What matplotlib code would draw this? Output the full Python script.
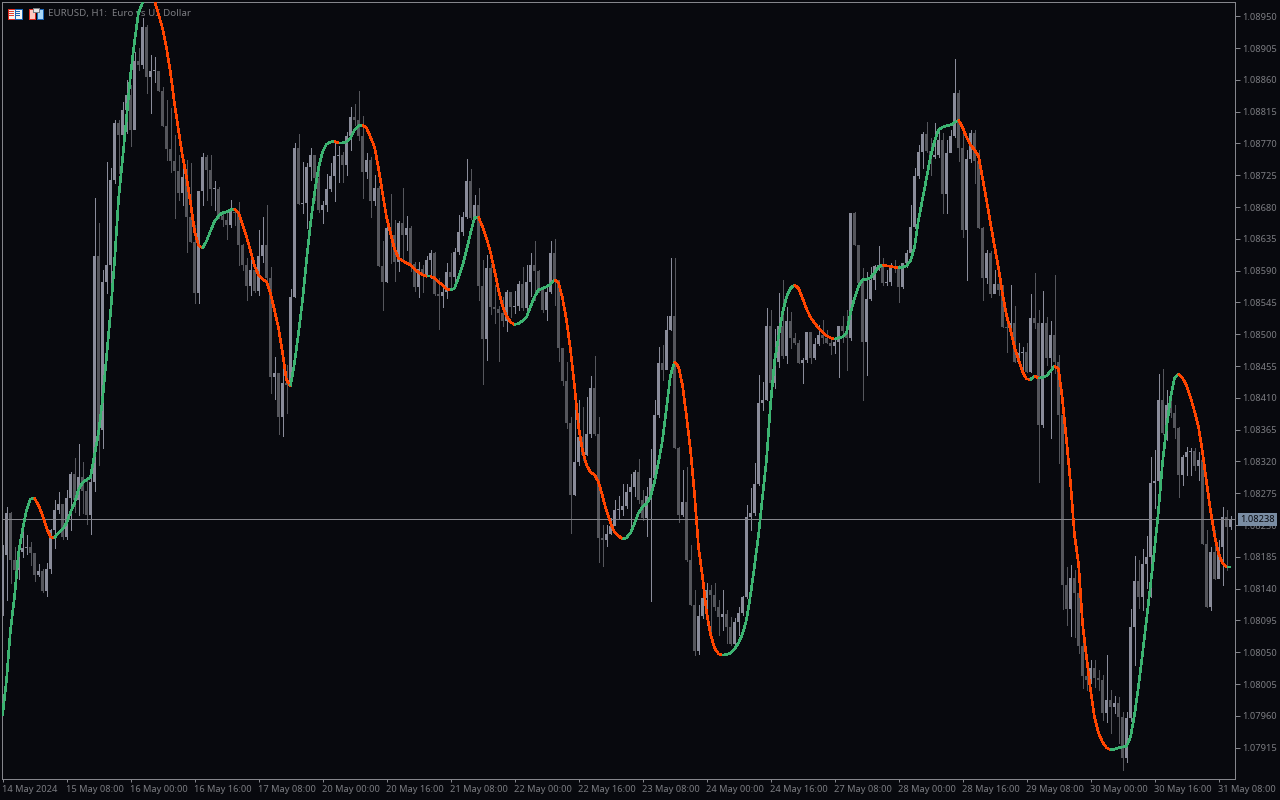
#!/usr/bin/env python3
"""EURUSD H1 chart with a smoothed trend line, dark terminal style."""
import matplotlib
matplotlib.use("Agg")
import matplotlib.pyplot as plt
import numpy as np
from matplotlib.collections import LineCollection
from matplotlib.patches import Rectangle
from matplotlib.transforms import Affine2D

# prices are kept as points above 1.00000 (8238 = 1.08238)
closes = [
    8188, 8247, 8181, 8166, 8192, 8198, 8199, 8190, 8159, 8165,
    8137, 8168, 8223, 8251, 8260, 8213, 8268, 8302, 8265, 8298,
    8278, 8244, 8291, 8611, 8365, 8574, 8598, 8718, 8799, 8782,
    8817, 8839, 8789, 8887, 8881, 8935, 8864, 8873, 8873, 8844,
    8795, 8762, 8745, 8731, 8700, 8723, 8666, 8631, 8558, 8703,
    8751, 8732, 8706, 8706, 8667, 8662, 8655, 8673, 8672, 8626,
    8598, 8568, 8591, 8561, 8611, 8626, 8580, 8440, 8445, 8383,
    8431, 8428, 8553, 8764, 8684, 8686, 8737, 8754, 8721, 8676,
    8683, 8706, 8724, 8752, 8754, 8740, 8781, 8807, 8803, 8781,
    8730, 8747, 8689, 8707, 8597, 8574, 8650, 8640, 8602, 8657,
    8640, 8650, 8599, 8567, 8592, 8584, 8605, 8615, 8557, 8554,
    8560, 8588, 8581, 8616, 8645, 8666, 8717, 8665, 8683, 8568,
    8493, 8594, 8539, 8536, 8530, 8519, 8560, 8539, 8540, 8571,
    8537, 8574, 8598, 8590, 8563, 8534, 8560, 8615, 8577, 8481,
    8434, 8374, 8273, 8319, 8355, 8329, 8359, 8424, 8359, 8212,
    8209, 8217, 8229, 8251, 8251, 8257, 8277, 8284, 8305, 8265,
    8240, 8271, 8297, 8386, 8459, 8449, 8506, 8526, 8339, 8244,
    8263, 8181, 8117, 8052, 8101, 8127, 8138, 8131, 8114, 8100,
    8104, 8086, 8062, 8093, 8106, 8128, 8241, 8247, 8288, 8403,
    8407, 8512, 8431, 8461, 8512, 8469, 8519, 8495, 8488, 8459,
    8464, 8503, 8466, 8486, 8499, 8495, 8488, 8483, 8489, 8512,
    8505, 8495, 8672, 8626, 8573, 8489, 8550, 8577, 8597, 8598,
    8573, 8574, 8595, 8594, 8567, 8601, 8615, 8652, 8724, 8758,
    8783, 8759, 8751, 8754, 8775, 8698, 8757, 8781, 8841, 8764,
    8648, 8748, 8785, 8745, 8650, 8580, 8615, 8557, 8571, 8563,
    8510, 8509, 8516, 8461, 8473, 8475, 8447, 8523, 8516, 8372,
    8516, 8466, 8499, 8461, 8386, 8145, 8111, 8155, 8134, 8059,
    8016, 8011, 8028, 8014, 8011, 7964, 7982, 7973, 7978, 7958,
    7900, 7957, 8086, 8151, 8128, 8175, 8185, 8290, 8292, 8407,
    8360, 8400, 8389, 8367, 8301, 8326, 8333, 8335, 8314, 8322,
    8203, 8114, 8192, 8154, 8199, 8241, 8227, 8237,
]
first_open = 8124
highs = [
    8202, 8256, 8248, 8199, 8206, 8223, 8216, 8206, 8185, 8175,
    8168, 8176, 8224, 8265, 8277, 8260, 8280, 8305, 8325, 8345,
    8319, 8298, 8298, 8693, 8657, 8591, 8744, 8735, 8803, 8803,
    8829, 8860, 8853, 8899, 8905, 8948, 8938, 8895, 8892, 8873,
    8850, 8831, 8820, 8782, 8754, 8747, 8747, 8742, 8655, 8703,
    8757, 8754, 8754, 8717, 8708, 8672, 8672, 8690, 8679, 8687,
    8628, 8608, 8608, 8594, 8648, 8666, 8683, 8595, 8468, 8445,
    8457, 8457, 8564, 8771, 8783, 8744, 8742, 8764, 8754, 8732,
    8689, 8727, 8742, 8771, 8766, 8758, 8786, 8822, 8826, 8844,
    8809, 8757, 8751, 8725, 8710, 8632, 8659, 8698, 8662, 8660,
    8707, 8667, 8653, 8602, 8602, 8598, 8611, 8619, 8616, 8580,
    8565, 8601, 8615, 8622, 8669, 8673, 8748, 8734, 8697, 8707,
    8605, 8612, 8599, 8570, 8540, 8553, 8563, 8557, 8561, 8575,
    8595, 8598, 8615, 8632, 8591, 8568, 8570, 8632, 8635, 8575,
    8478, 8461, 8383, 8407, 8407, 8397, 8411, 8441, 8469, 8383,
    8230, 8230, 8240, 8265, 8271, 8288, 8288, 8302, 8308, 8323,
    8280, 8284, 8338, 8407, 8482, 8485, 8526, 8608, 8608, 8340,
    8308, 8312, 8202, 8138, 8117, 8145, 8148, 8145, 8148, 8124,
    8138, 8110, 8100, 8099, 8114, 8130, 8258, 8282, 8318, 8442,
    8432, 8537, 8534, 8507, 8558, 8577, 8539, 8531, 8502, 8492,
    8466, 8503, 8502, 8495, 8513, 8520, 8506, 8496, 8492, 8512,
    8526, 8534, 8672, 8673, 8625, 8594, 8588, 8595, 8598, 8625,
    8608, 8591, 8601, 8605, 8598, 8601, 8619, 8683, 8735, 8768,
    8786, 8800, 8778, 8799, 8789, 8785, 8775, 8789, 8889, 8846,
    8789, 8761, 8789, 8789, 8761, 8652, 8619, 8618, 8591, 8573,
    8570, 8520, 8570, 8540, 8488, 8482, 8488, 8557, 8587, 8534,
    8561, 8524, 8519, 8584, 8471, 8386, 8171, 8174, 8166, 8142,
    8082, 8043, 8039, 8039, 8025, 8018, 8046, 7997, 7988, 7987,
    7965, 7965, 8111, 8186, 8181, 8196, 8215, 8326, 8336, 8444,
    8451, 8421, 8407, 8400, 8369, 8329, 8340, 8339, 8339, 8333,
    8332, 8223, 8199, 8223, 8209, 8255, 8251, 8243,
]
lows = [
    8103, 8124, 8148, 8142, 8154, 8185, 8189, 8174, 8151, 8158,
    8135, 8130, 8162, 8198, 8247, 8210, 8210, 8223, 8248, 8244,
    8247, 8232, 8217, 8278, 8315, 8339, 8558, 8558, 8714, 8728,
    8775, 8785, 8766, 8820, 8874, 8877, 8841, 8813, 8857, 8844,
    8795, 8747, 8730, 8665, 8690, 8683, 8616, 8631, 8544, 8544,
    8683, 8690, 8683, 8676, 8665, 8653, 8635, 8652, 8655, 8598,
    8591, 8548, 8556, 8560, 8556, 8602, 8577, 8417, 8408, 8359,
    8356, 8389, 8427, 8553, 8684, 8672, 8650, 8718, 8690, 8673,
    8657, 8674, 8703, 8689, 8715, 8715, 8725, 8761, 8796, 8775,
    8693, 8721, 8666, 8683, 8597, 8534, 8574, 8601, 8575, 8590,
    8602, 8619, 8590, 8561, 8553, 8560, 8582, 8580, 8556, 8507,
    8539, 8551, 8563, 8570, 8614, 8640, 8665, 8663, 8663, 8548,
    8430, 8464, 8529, 8516, 8462, 8512, 8505, 8524, 8530, 8534,
    8534, 8534, 8554, 8548, 8560, 8531, 8520, 8558, 8541, 8462,
    8428, 8367, 8219, 8273, 8315, 8322, 8329, 8355, 8357, 8178,
    8172, 8200, 8217, 8230, 8240, 8244, 8254, 8222, 8271, 8261,
    8237, 8215, 8123, 8297, 8383, 8435, 8457, 8506, 8339, 8234,
    8243, 8179, 8117, 8046, 8048, 8098, 8089, 8074, 8110, 8074,
    8081, 8063, 8060, 8057, 8074, 8103, 8127, 8223, 8244, 8287,
    8393, 8407, 8428, 8424, 8454, 8466, 8459, 8481, 8486, 8459,
    8431, 8461, 8459, 8465, 8485, 8488, 8488, 8472, 8473, 8440,
    8489, 8449, 8492, 8626, 8573, 8407, 8442, 8548, 8564, 8591,
    8570, 8570, 8570, 8588, 8546, 8565, 8595, 8608, 8650, 8721,
    8735, 8758, 8725, 8749, 8751, 8672, 8672, 8765, 8779, 8745,
    8638, 8577, 8744, 8714, 8650, 8548, 8573, 8553, 8565, 8556,
    8510, 8475, 8495, 8461, 8457, 8449, 8447, 8447, 8509, 8291,
    8369, 8456, 8353, 8445, 8318, 8111, 8089, 8073, 8072, 8049,
    8000, 7997, 8007, 8001, 7997, 7954, 7951, 7936, 7964, 7922,
    7883, 7895, 7953, 8032, 8113, 8110, 8141, 8128, 8254, 8265,
    8359, 8350, 8383, 8353, 8270, 8287, 8301, 8301, 8308, 8294,
    8203, 8114, 8110, 8154, 8159, 8145, 8166, 8224,
]
trend = [
    7961, 8011, 8082, 8128, 8190, 8223, 8251, 8267, 8268, 8258,
    8244, 8226, 8213, 8212, 8219, 8224, 8233, 8248, 8261, 8280,
    8290, 8294, 8298, 8329, 8360, 8407, 8468, 8530, 8602, 8690,
    8747, 8806, 8867, 8914, 8955, 8969, 8984, 8990, 8972, 8953,
    8933, 8905, 8870, 8826, 8789, 8752, 8723, 8686, 8646, 8626,
    8622, 8632, 8646, 8660, 8667, 8672, 8673, 8676, 8677, 8672,
    8656, 8638, 8618, 8597, 8584, 8578, 8574, 8558, 8534, 8509,
    8474, 8435, 8427, 8459, 8502, 8548, 8605, 8656, 8700, 8735,
    8758, 8769, 8772, 8773, 8771, 8771, 8772, 8778, 8789, 8795,
    8796, 8792, 8779, 8765, 8735, 8700, 8666, 8643, 8621, 8608,
    8604, 8601, 8598, 8592, 8588, 8584, 8582, 8582, 8580, 8574,
    8570, 8564, 8563, 8565, 8580, 8597, 8619, 8643, 8665, 8666,
    8652, 8636, 8616, 8590, 8563, 8540, 8526, 8517, 8514, 8515,
    8519, 8524, 8539, 8553, 8563, 8565, 8567, 8571, 8577, 8573,
    8551, 8520, 8478, 8427, 8369, 8336, 8315, 8305, 8301, 8291,
    8271, 8250, 8233, 8220, 8215, 8210, 8212, 8219, 8232, 8247,
    8256, 8260, 8270, 8291, 8319, 8350, 8396, 8442, 8461, 8454,
    8428, 8384, 8336, 8274, 8199, 8157, 8107, 8076, 8056, 8048,
    8046, 8047, 8049, 8055, 8063, 8076, 8096, 8131, 8172, 8216,
    8270, 8322, 8400, 8461, 8496, 8530, 8553, 8565, 8570, 8565,
    8551, 8536, 8524, 8516, 8509, 8503, 8498, 8495, 8493, 8495,
    8496, 8502, 8530, 8551, 8568, 8577, 8578, 8580, 8587, 8595,
    8598, 8597, 8596, 8595, 8594, 8595, 8597, 8604, 8623, 8662,
    8691, 8721, 8751, 8773, 8789, 8793, 8795, 8796, 8800, 8803,
    8793, 8779, 8768, 8761, 8752, 8721, 8690, 8657, 8625, 8594,
    8557, 8527, 8506, 8482, 8464, 8447, 8437, 8436, 8441, 8438,
    8439, 8441, 8448, 8455, 8451, 8407, 8350, 8290, 8216, 8176,
    8091, 8043, 7997, 7958, 7936, 7923, 7915, 7912, 7913, 7915,
    7916, 7917, 7930, 7961, 8002, 8048, 8096, 8145, 8195, 8251,
    8318, 8367, 8410, 8438, 8444, 8438, 8428, 8411, 8391, 8369,
    8333, 8291, 8251, 8216, 8190, 8176, 8171, 8171,
]
time_labels = [
    "14 May 2024", "15 May 08:00", "16 May 00:00", "16 May 16:00", "17 May 08:00",
    "20 May 00:00", "20 May 16:00", "21 May 08:00", "22 May 00:00", "22 May 16:00",
    "23 May 08:00", "24 May 00:00", "24 May 16:00", "27 May 08:00", "28 May 00:00",
    "28 May 16:00", "29 May 08:00", "30 May 00:00", "30 May 16:00", "31 May 08:00",
]
price_ticks = [
    8950, 8905, 8860, 8815, 8770, 8725, 8680, 8635, 8590, 8545, 8500, 8455,
    8410, 8365, 8320, 8275, 8230, 8185, 8140, 8095, 8050, 8005, 7960, 7915,
]
last_price = 8238

BG = "#08090e"
FRAME = "#85868c"
TEXT = "#7c7d82"
UP = "#8a8c9a"
DOWN = "#55565c"
GREEN = "#3cb371"
RED = "#ff4500"
FONT = "Noto Sans"
FS = 6.7


def price(p):
    return 1 + np.asarray(p, dtype=float) / 1e5


opens = [first_open] + closes[:-1]
n = len(closes)
xs = np.arange(n)

fig = plt.figure(figsize=(12.8, 8), dpi=100, facecolor=BG)
ax = fig.add_axes([2 / 1280, 1 - 779 / 800, 1233 / 1280, 777 / 800], facecolor=BG)
# bar 0 is centred half a pixel right of the frame
ax.set_xlim(-0.125, 1233 / 4 - 0.125)
ax.set_ylim(price(8973 - 1.415 * 779), price(8973 - 1.415 * 2))

# figure pixels, origin top left, for the title, price tag and the two toolbar icons
px = Affine2D().scale(1, -1).translate(0, 800)

# chart title sits under the candles and the line
ax.text(48, 13.5, "EURUSD, H1:  Euro vs US Dollar", color=TEXT, family=FONT, fontsize=7.0,
        va="center", transform=px, zorder=1)

cols = [UP if c >= o else DOWN for o, c in zip(opens, closes)]
ax.vlines(xs, price(lows), price(highs), colors=cols, linewidth=0.72, antialiased=False, zorder=2)

# bodies at least one pixel tall so dojis still show
body_low = np.minimum(opens, closes)
body_h = np.maximum(np.abs(np.subtract(closes, opens)), 1.5)
ax.bar(xs, body_h / 1e5, bottom=price(body_low), width=0.75, color=cols, linewidth=0,
       antialiased=False, zorder=3)

ax.axhline(price(last_price), color=FRAME, linewidth=0.72, antialiased=False, zorder=4)

pts = np.column_stack([xs, price(trend)])
segs = np.stack([pts[:-1], pts[1:]], axis=1)
seg_cols = [GREEN if b >= a else RED for a, b in zip(trend[:-1], trend[1:])]
ax.add_collection(LineCollection(segs, colors=seg_cols, linewidths=1.15, antialiased=False, zorder=5))

ax.yaxis.tick_right()
ax.set_yticks(price(price_ticks))
ax.set_yticklabels([f"{v:.5f}" for v in price(price_ticks)], family=FONT, fontsize=FS, color=TEXT)
ax.set_xticks(np.arange(len(time_labels)) * 16)
ax.set_xticklabels(time_labels, family=FONT, fontsize=FS, color=TEXT, ha="left")
ax.tick_params(axis="y", length=3.5, width=0.72, color=FRAME, pad=1.5)
ax.tick_params(axis="x", length=2.5, width=0.72, color=FRAME, pad=1.5)
for s in ax.spines.values():
    s.set_color(FRAME)
    s.set_linewidth(0.72)


def box(x, y, w, h, face, edge="none"):
    fig.add_artist(Rectangle((x, y), w, h, facecolor=face, edgecolor=edge, linewidth=0.72,
                             transform=px, antialiased=False))


box(1238, 513, 39, 13, "#7a8da3")
fig.text(1257.5, 519.5, f"{price(last_price):.5f}", color="#08090e", family=FONT, fontsize=FS,
         ha="center", va="center", transform=px, zorder=3)

box(7.5, 8.5, 7, 10, "#f4f4f4", "#e02b20")
box(14.5, 8.5, 7, 10, "#f4f4f4", "#1c64b4")
for yy in (11, 13, 15):
    box(9, yy, 4.5, 1, "#e0402f")
    box(15.5, yy, 4.5, 1, "#1c64b4")
box(28.5, 8.5, 6, 10, "#ffc8c0", "#e02b20")
box(36.5, 8.5, 6, 10, "#a8d8f8", "#1c64b4")
box(32.5, 7.5, 6, 4, "#e8e8e8", "#7c7d82")

fig.savefig("out.png", dpi=100, facecolor=BG)
plt.close(fig)
print("[wrote] out.png", n)
